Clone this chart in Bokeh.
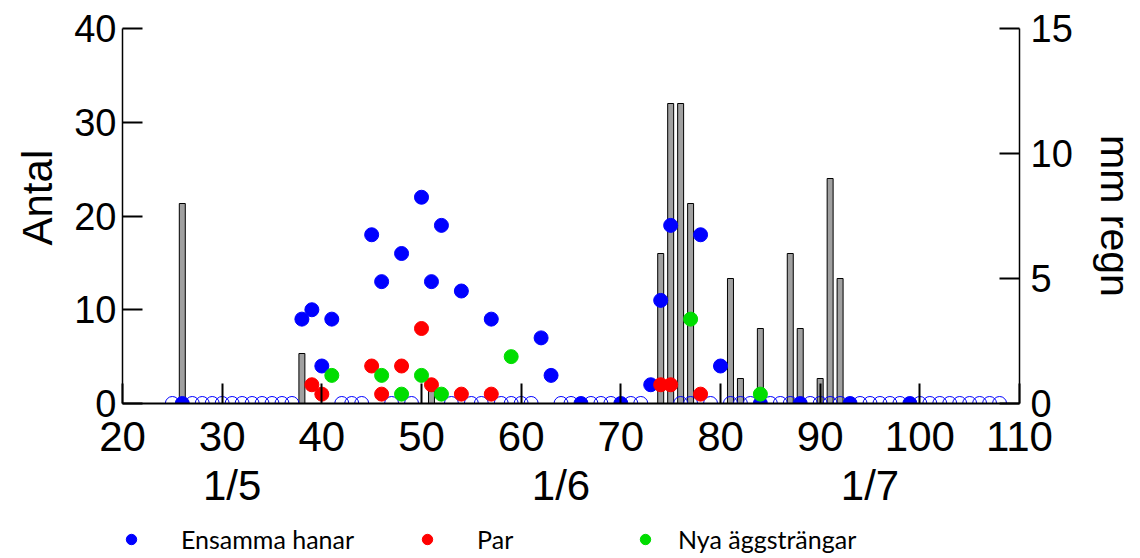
from bokeh.plotting import figure
from bokeh.models import Range1d, LinearAxis, Legend, LegendItem, FixedTicker, Title
from bokeh.layouts import column
from bokeh.embed import file_html
from bokeh.resources import INLINE

# ---- data ----
rain_days = [26, 38, 51, 74, 75, 76, 77, 81, 82, 84, 87, 88, 90, 91, 92]
rain_mm = [8, 2, 0.5, 6, 12, 12, 8, 5, 1, 3, 6, 3, 1, 9, 5]

hanar_days = [26, 38, 39, 40, 41, 45, 46, 48, 50, 51, 52, 54, 57, 62, 63, 66, 70,
              73, 74, 75, 78, 80, 84, 88, 93, 99]
hanar = [0, 9, 10, 4, 9, 18, 13, 16, 22, 13, 19, 12, 9, 7, 3, 0, 0,
         2, 11, 19, 18, 4, 0, 0, 0, 0]

par_days = [39, 40, 45, 46, 48, 50, 51, 54, 57, 74, 75, 78]
par = [2, 1, 4, 1, 4, 8, 2, 1, 1, 2, 2, 1]

agg_days = [41, 46, 48, 50, 52, 59, 77, 84]
agg = [3, 3, 1, 3, 1, 5, 9, 1]

empty_days = [25, 27, 28, 29, 30, 31, 32, 33, 34, 35, 36, 37, 42, 43, 44, 47, 49,
              53, 55, 56, 58, 59, 60, 61, 64, 65, 67, 68, 69, 71, 72, 76, 77, 79,
              81, 82, 83, 85, 86, 87, 89, 90, 91, 92, 94, 95, 96, 97, 98, 100,
              101, 102, 103, 104, 105, 106, 107, 108]
empty_vals = [0] * len(empty_days)

x_ticks = [20, 30, 40, 50, 60, 70, 80, 90, 100, 110]
y_ticks = [0, 10, 20, 30, 40]
rain_ticks = [0, 5, 10, 15]
date_labels = ["1/5", "1/6", "1/7"]
date_pos = [31, 64, 95]

series_names = ["Ensamma hanar", "Par", "Nya äggsträngar"]

BLUE = "#0000ff"
RED = "#ff0000"
GREEN = "#00dd00"
TXT = "Liberation Sans"

W = 1140
H_MAIN = 513
H_LEG = 45

p = figure(width=W, height=H_MAIN, output_backend="svg", toolbar_location=None,
           x_range=Range1d(20, 110), y_range=Range1d(0, 40),
           min_border_left=122, min_border_right=118, min_border_top=28,
           min_border_bottom=110)
p.extra_y_ranges = {"rain": Range1d(0, 15)}
p.outline_line_color = None
p.grid.visible = False
p.background_fill_color = "white"
p.border_fill_color = "white"

# rain bars
p.vbar(x=rain_days, top=rain_mm, width=0.6, y_range_name="rain",
       fill_color="#a0a0a0", line_color="black", line_width=1)

# empty circles
p.scatter(empty_days, empty_vals, marker="circle", size=14, fill_alpha=0,
          line_color=BLUE, line_width=1)

p.scatter(hanar_days, hanar, marker="circle", size=14, fill_color=BLUE, line_color=BLUE)
p.scatter(par_days, par, marker="circle", size=14, fill_color=RED, line_color=RED)
p.scatter(agg_days, agg, marker="circle", size=14, fill_color=GREEN, line_color=GREEN)


def style_axis(ax, size):
    ax.axis_line_width = 1.5
    ax.axis_line_color = "black"
    ax.major_tick_line_width = 2
    ax.major_tick_line_color = "black"
    ax.major_tick_in = 20
    ax.major_tick_out = 0
    ax.minor_tick_line_color = None
    ax.major_label_text_font = TXT
    ax.major_label_text_font_size = size
    ax.major_label_text_color = "black"
    ax.axis_label_text_font = TXT
    ax.axis_label_text_font_size = "41px"
    ax.axis_label_text_font_style = "normal"
    ax.axis_label_text_color = "black"


xax = p.xaxis[0]
style_axis(xax, "42px")
xax.ticker = FixedTicker(ticks=x_ticks)
xax.major_label_standoff = 18
xax.axis_line_width = 2

yax = p.yaxis[0]
style_axis(yax, "38px")
yax.ticker = FixedTicker(ticks=y_ticks)
yax.major_label_standoff = 6

# left title (axis name), placed above the centre as in the original
p.add_layout(Title(text="Antal", align="left", offset=158, standoff=22,
                   text_font=TXT, text_font_size="42px", text_font_style="normal",
                   text_color="black"), "left")

rax = LinearAxis(y_range_name="rain", ticker=FixedTicker(ticks=rain_ticks),
                 axis_label="mm regn")
style_axis(rax, "38px")
rax.major_label_standoff = 11
rax.axis_label_standoff = 16
p.add_layout(rax, "right")

# date labels as a secondary axis under the x axis
dax = LinearAxis(ticker=FixedTicker(ticks=date_pos),
                 major_label_overrides={d: t for d, t in zip(date_pos, date_labels)})
style_axis(dax, "42px")
dax.axis_line_color = None
dax.major_tick_line_color = None
dax.major_tick_in = 0
dax.major_label_standoff = 8
p.add_layout(dax, "below")

# ---- legend strip (its own small figure; series drawn out of view) ----
q = figure(width=W, height=H_LEG, output_backend="svg", toolbar_location=None,
           x_range=Range1d(0, 1), y_range=Range1d(100, 101),
           x_axis_type=None, y_axis_type=None, min_border=0)
q.outline_line_color = None
q.grid.visible = False
q.background_fill_color = "white"
q.border_fill_color = "white"
lb = q.scatter(hanar_days, hanar, marker="circle", size=14, fill_color=BLUE, line_color=BLUE)
lr = q.scatter(par_days, par, marker="circle", size=14, fill_color=RED, line_color=RED)
lgr = q.scatter(agg_days, agg, marker="circle", size=14, fill_color=GREEN, line_color=GREEN)

common = dict(orientation="horizontal", glyph_width=26, glyph_height=26,
              label_height=34, padding=0, margin=0, border_line_color=None,
              background_fill_alpha=0, label_text_font="Lato",
              label_text_font_size="25px", label_text_color="black")
lg1 = Legend(items=[LegendItem(label=series_names[0], renderers=[lb]),
                    LegendItem(label=series_names[1], renderers=[lr])],
             location=(-4, 2), label_standoff=37, label_width=95, spacing=60,
             **common)
lg2 = Legend(items=[LegendItem(label=series_names[2], renderers=[lgr])],
             location=(510, 2), label_standoff=20, **common)
q.add_layout(lg1, "center")
q.add_layout(lg2, "center")

layout = column(p, q, spacing=0)
open("out.html", "w").write(file_html(layout, INLINE))
